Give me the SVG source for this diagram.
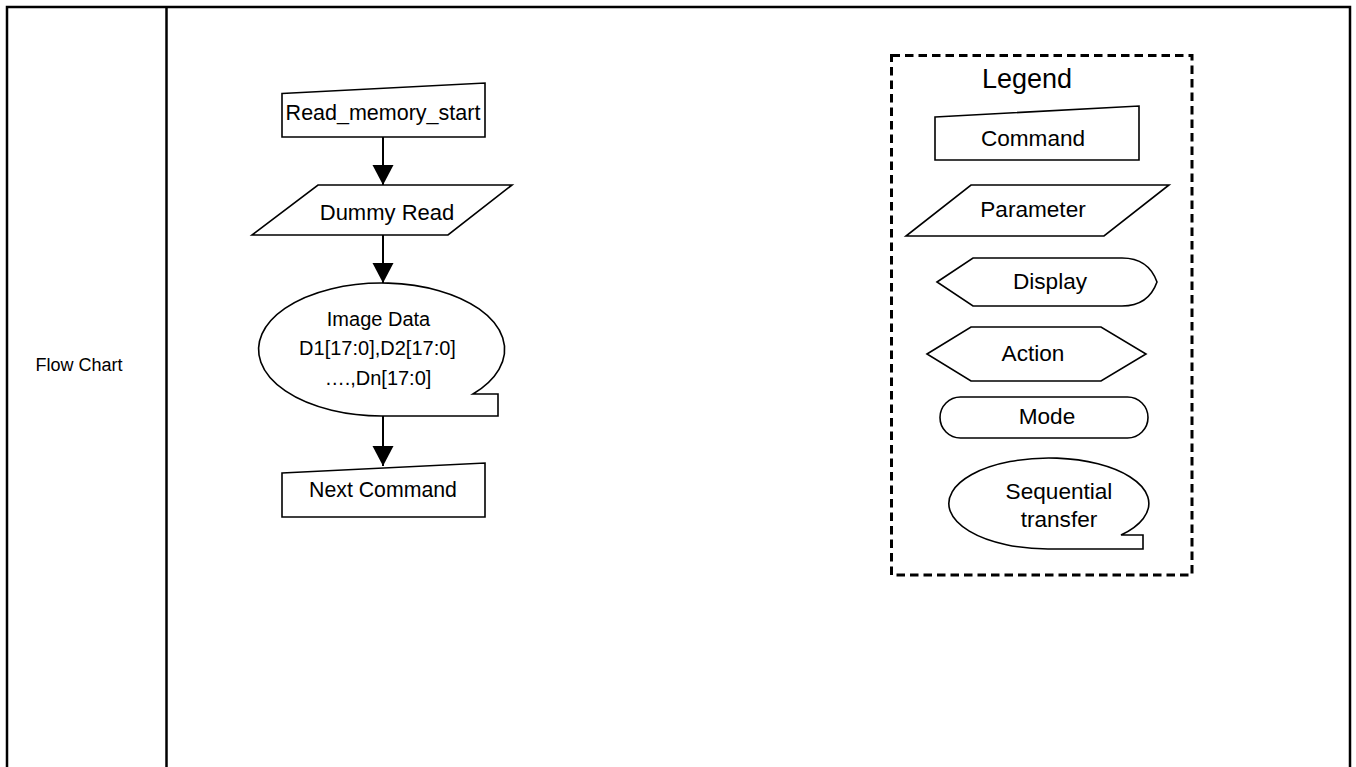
<svg xmlns="http://www.w3.org/2000/svg" width="1356" height="767" viewBox="0 0 1356 767">
<style>
.shape{fill:#ffffff;stroke:#000000;stroke-width:1.6;stroke-linejoin:miter}
.t{font-family:"Liberation Sans",Arial,sans-serif;fill:#000000;text-anchor:middle}
.lg{font-size:22.6px}
.conn{stroke:#000000;stroke-width:2;fill:none}
.border{fill:none;stroke:#000000;stroke-width:2.5}
</style>
<defs>
<marker id="arr" markerUnits="userSpaceOnUse" markerWidth="22" markerHeight="22" refX="20" refY="10.5" orient="auto" viewBox="0 0 22 22">
<path d="M0,0 L20,10.5 L0,21 Z" fill="#000000"/>
</marker>
</defs>
<rect width="1356" height="767" fill="#ffffff"/>
<g id="table">
<path class="border" d="M7,775 V7 H1350 V775"/>
<line class="border" x1="166.5" y1="7" x2="166.5" y2="775"/>
<text class="t" x="79" y="371" font-size="18">Flow Chart</text>
</g>
<g id="connectors">
<line class="conn" x1="383" y1="137" x2="383" y2="185" marker-end="url(#arr)"/>
<line class="conn" x1="383" y1="235" x2="383" y2="283" marker-end="url(#arr)"/>
<line class="conn" x1="383" y1="416" x2="383" y2="466" marker-end="url(#arr)"/>
</g>
<g id="read_memory_start">
<path class="shape" d="M282,93.5 L485,83 L485,137 L282,137 Z"/>
<text class="t" x="383" y="120" font-size="21.5">Read_memory_start</text>
</g>
<g id="dummy_read">
<path class="shape" d="M318,185 L512,185 L448,235 L252,235 Z"/>
<text class="t" x="387" y="220" font-size="22">Dummy Read</text>
</g>
<g id="image_data">
<path class="shape" d="M383,416 A123,66.5 0 1 1 473,394 L498,394 L498,416 Z"/>
<text class="t" x="378.5" y="326" font-size="20">Image Data</text>
<text class="t" x="377.5" y="355" font-size="20">D1[17:0],D2[17:0]</text>
<text class="t" x="378" y="385" font-size="20">….,Dn[17:0]</text>
</g>
<g id="next_command">
<path class="shape" d="M282,473 L485,463 L485,517 L282,517 Z"/>
<text class="t" x="383" y="497" font-size="21.3">Next Command</text>
</g>
<g id="legend">
<rect x="891.5" y="55.5" width="300.5" height="519.5" fill="none" stroke="#000000" stroke-width="3" stroke-dasharray="8.5 5"/>
<text class="t" x="1027" y="88" font-size="27">Legend</text>
</g>
<g id="legend_command">
<path class="shape" d="M935,117 L1139,106 L1139,160 L935,160 Z"/>
<text class="t lg" x="1033" y="146">Command</text>
</g>
<g id="legend_parameter">
<path class="shape" d="M971,185 L1169,185 L1104,236 L906,236 Z"/>
<text class="t lg" x="1033" y="217">Parameter</text>
</g>
<g id="legend_display">
<path class="shape" d="M937,282 L973,258 L1122,258 C1142,258 1152,268 1157,282 C1152,296 1142,306 1122,306 L973,306 Z"/>
<text class="t lg" x="1050" y="289">Display</text>
</g>
<g id="legend_action">
<path class="shape" d="M927,354 L971,327 L1101,327 L1146,354 L1101,381 L971,381 Z"/>
<text class="t lg" x="1033" y="361">Action</text>
</g>
<g id="legend_mode">
<rect class="shape" x="940" y="397" width="208" height="41" rx="20.5" ry="20.5"/>
<text class="t lg" x="1047" y="424">Mode</text>
</g>
<g id="legend_sequential">
<path class="shape" d="M1048,549 A100,45.5 0 1 1 1121,535 L1143,535 L1143,549 Z"/>
<text class="t lg" x="1059" y="499">Sequential</text>
<text class="t lg" x="1059" y="527">transfer</text>
</g>
</svg>
